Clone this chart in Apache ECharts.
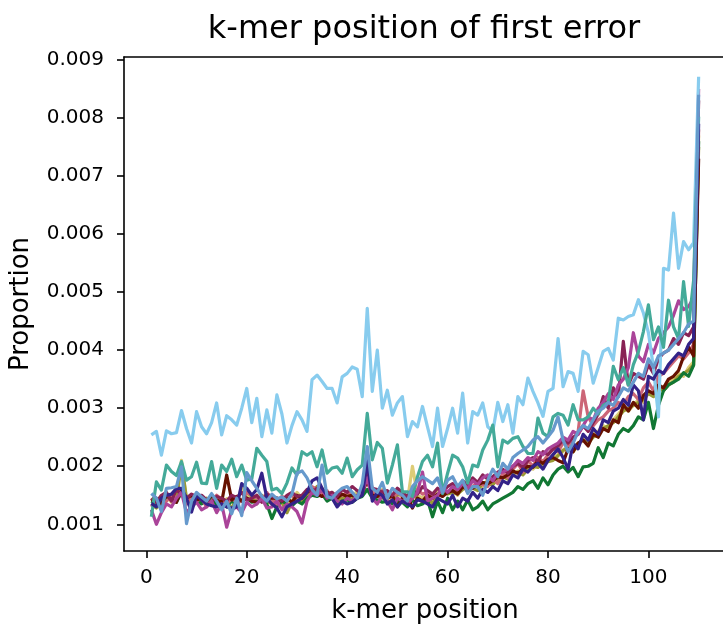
<!DOCTYPE html>
<html>
<head>
<meta charset="utf-8">
<script src="https://cdn.jsdelivr.net/npm/echarts@6/dist/echarts.min.js"></script>
<style>
html,body{margin:0;padding:0;background:#fff;}
#chart{width:723px;height:625px;}
</style>
</head>
<body>
<div id="chart"></div>
<script>
// k-mer positions 1..110
const positions = Array.from({length: 110}, (_, i) => i + 1);
const xTicks = [0, 20, 40, 60, 80, 100];
const yTicks = [0.001, 0.002, 0.003, 0.004, 0.005, 0.006, 0.007, 0.008, 0.009];

const lightBlue = [0.00254,0.00260,0.00219,0.00261,0.00256,0.00258,0.00296,0.00265,0.00240,0.00294,
0.00268,0.00256,0.00275,0.00309,0.00254,0.00287,0.00280,0.00271,0.00300,0.00334,
0.00275,0.00317,0.00251,0.00297,0.00257,0.00323,0.00290,0.00240,0.00270,0.00294,
0.00280,0.00260,0.00349,0.00357,0.00346,0.00334,0.00334,0.00309,0.00354,0.00360,
0.00371,0.00367,0.00320,0.00472,0.00329,0.00400,0.00300,0.00331,0.00288,0.00309,
0.00320,0.00251,0.00277,0.00268,0.00303,0.00268,0.00234,0.00300,0.00234,0.00265,
0.00300,0.00257,0.00326,0.00240,0.00294,0.00288,0.00309,0.00268,0.00260,0.00310,
0.00277,0.00306,0.00257,0.00320,0.00306,0.00352,0.00329,0.00309,0.00286,0.00329,
0.00334,0.00420,0.00337,0.00363,0.00360,0.00329,0.00398,0.00392,0.00343,0.00370,
0.00398,0.00403,0.00383,0.00455,0.00452,0.00458,0.00461,0.00487,0.00464,0.00430,
0.00370,0.00285,0.00541,0.00538,0.00636,0.00541,0.00587,0.00573,0.00585,0.00871];

const teal = [0.00113,0.00173,0.00159,0.00202,0.00191,0.00184,0.00208,0.00176,0.00182,0.00207,
0.00171,0.00170,0.00208,0.00162,0.00202,0.00191,0.00212,0.00182,0.00202,0.00176,
0.00178,0.00231,0.00219,0.00208,0.00159,0.00162,0.00153,0.00171,0.00197,0.00185,
0.00225,0.00219,0.00225,0.00199,0.00228,0.00188,0.00197,0.00199,0.00188,0.00214,
0.00182,0.00194,0.00202,0.00291,0.00211,0.00241,0.00231,0.00171,0.00202,0.00237,
0.00156,0.00156,0.00148,0.00182,0.00208,0.00219,0.00199,0.00240,0.00153,0.00188,
0.00219,0.00214,0.00199,0.00171,0.00202,0.00199,0.00228,0.00245,0.00271,0.00199,
0.00245,0.00240,0.00248,0.00251,0.00234,0.00222,0.00222,0.00283,0.00257,0.00251,
0.00285,0.00291,0.00288,0.00271,0.00306,0.00280,0.00280,0.00285,0.00300,0.00290,
0.00305,0.00310,0.00372,0.00349,0.00370,0.00340,0.00375,0.00397,0.00432,0.00478,
0.00418,0.00440,0.00405,0.00486,0.00440,0.00420,0.00518,0.00441,0.00520,0.00802];

const sand = [0.00145,0.00130,0.00142,0.00150,0.00138,0.00152,0.00210,0.00140,0.00135,0.00150,
0.00142,0.00135,0.00150,0.00138,0.00130,0.00144,0.00140,0.00135,0.00165,0.00148,
0.00140,0.00150,0.00145,0.00138,0.00142,0.00133,0.00148,0.00138,0.00140,0.00155,
0.00145,0.00150,0.00160,0.00155,0.00162,0.00148,0.00145,0.00150,0.00142,0.00155,
0.00145,0.00158,0.00150,0.00180,0.00155,0.00150,0.00160,0.00145,0.00140,0.00155,
0.00145,0.00140,0.00200,0.00150,0.00145,0.00155,0.00138,0.00160,0.00150,0.00155,
0.00158,0.00150,0.00170,0.00160,0.00165,0.00170,0.00162,0.00178,0.00170,0.00175,
0.00180,0.00185,0.00185,0.00192,0.00188,0.00200,0.00195,0.00205,0.00200,0.00210,
0.00215,0.00220,0.00225,0.00240,0.00225,0.00235,0.00250,0.00245,0.00255,0.00260,
0.00270,0.00265,0.00280,0.00290,0.00300,0.00295,0.00305,0.00315,0.00310,0.00330,
0.00325,0.00340,0.00335,0.00345,0.00350,0.00360,0.00355,0.00370,0.00380,0.00770];

const olive = [0.00135,0.00128,0.00138,0.00152,0.00145,0.00140,0.00205,0.00145,0.00130,0.00140,
0.00138,0.00145,0.00135,0.00142,0.00130,0.00135,0.00128,0.00145,0.00140,0.00155,
0.00148,0.00135,0.00150,0.00140,0.00135,0.00145,0.00138,0.00120,0.00138,0.00145,
0.00138,0.00150,0.00155,0.00165,0.00150,0.00145,0.00155,0.00140,0.00145,0.00148,
0.00142,0.00150,0.00160,0.00175,0.00152,0.00148,0.00145,0.00155,0.00142,0.00150,
0.00155,0.00140,0.00150,0.00145,0.00138,0.00148,0.00135,0.00150,0.00155,0.00152,
0.00155,0.00152,0.00160,0.00165,0.00162,0.00158,0.00172,0.00170,0.00168,0.00178,
0.00182,0.00178,0.00188,0.00190,0.00185,0.00195,0.00200,0.00198,0.00205,0.00208,
0.00210,0.00218,0.00228,0.00230,0.00225,0.00240,0.00245,0.00240,0.00250,0.00255,
0.00265,0.00270,0.00275,0.00285,0.00295,0.00300,0.00305,0.00310,0.00315,0.00325,
0.00320,0.00335,0.00330,0.00340,0.00345,0.00355,0.00360,0.00365,0.00375,0.00750];

const green = [0.00140,0.00135,0.00130,0.00145,0.00150,0.00138,0.00155,0.00140,0.00135,0.00142,
0.00135,0.00140,0.00145,0.00132,0.00138,0.00130,0.00140,0.00135,0.00142,0.00145,
0.00138,0.00140,0.00148,0.00135,0.00110,0.00130,0.00140,0.00135,0.00132,0.00140,
0.00135,0.00145,0.00150,0.00148,0.00152,0.00140,0.00145,0.00135,0.00140,0.00142,
0.00138,0.00145,0.00148,0.00160,0.00145,0.00142,0.00138,0.00140,0.00135,0.00140,
0.00138,0.00130,0.00142,0.00132,0.00135,0.00142,0.00113,0.00140,0.00120,0.00145,
0.00125,0.00140,0.00125,0.00142,0.00125,0.00130,0.00140,0.00125,0.00135,0.00140,
0.00145,0.00150,0.00155,0.00165,0.00160,0.00170,0.00175,0.00162,0.00180,0.00168,
0.00185,0.00195,0.00200,0.00190,0.00198,0.00182,0.00199,0.00200,0.00205,0.00232,
0.00215,0.00240,0.00235,0.00255,0.00265,0.00260,0.00270,0.00285,0.00280,0.00310,
0.00265,0.00305,0.00330,0.00340,0.00345,0.00350,0.00361,0.00355,0.00374,0.00760];

const rose = [0.00130,0.00142,0.00135,0.00140,0.00148,0.00145,0.00155,0.00135,0.00148,0.00140,
0.00145,0.00130,0.00140,0.00150,0.00142,0.00135,0.00145,0.00138,0.00140,0.00155,
0.00150,0.00145,0.00140,0.00155,0.00142,0.00135,0.00148,0.00145,0.00150,0.00140,
0.00148,0.00155,0.00165,0.00160,0.00150,0.00158,0.00145,0.00152,0.00150,0.00155,
0.00152,0.00148,0.00162,0.00195,0.00155,0.00150,0.00158,0.00152,0.00145,0.00155,
0.00148,0.00150,0.00145,0.00160,0.00152,0.00155,0.00150,0.00148,0.00160,0.00155,
0.00162,0.00158,0.00170,0.00155,0.00165,0.00172,0.00168,0.00165,0.00180,0.00170,
0.00188,0.00180,0.00195,0.00205,0.00190,0.00210,0.00200,0.00215,0.00208,0.00220,
0.00230,0.00225,0.00240,0.00235,0.00245,0.00260,0.00330,0.00285,0.00270,0.00280,
0.00285,0.00295,0.00300,0.00310,0.00305,0.00320,0.00325,0.00315,0.00335,0.00345,
0.00330,0.00355,0.00360,0.00370,0.00380,0.00390,0.00385,0.00395,0.00410,0.00780];

const wine = [0.00145,0.00138,0.00150,0.00155,0.00140,0.00160,0.00150,0.00145,0.00152,0.00148,
0.00150,0.00142,0.00138,0.00148,0.00145,0.00140,0.00150,0.00146,0.00155,0.00142,
0.00145,0.00150,0.00138,0.00152,0.00148,0.00145,0.00140,0.00150,0.00155,0.00148,
0.00150,0.00160,0.00155,0.00162,0.00158,0.00152,0.00155,0.00148,0.00160,0.00155,
0.00165,0.00158,0.00152,0.00190,0.00162,0.00160,0.00155,0.00158,0.00150,0.00162,
0.00155,0.00148,0.00160,0.00152,0.00165,0.00158,0.00152,0.00162,0.00155,0.00165,
0.00170,0.00160,0.00175,0.00168,0.00180,0.00172,0.00185,0.00178,0.00182,0.00190,
0.00195,0.00188,0.00200,0.00205,0.00198,0.00210,0.00215,0.00208,0.00225,0.00220,
0.00230,0.00235,0.00245,0.00240,0.00250,0.00255,0.00270,0.00260,0.00275,0.00290,
0.00320,0.00300,0.00335,0.00320,0.00415,0.00340,0.00360,0.00355,0.00350,0.00375,
0.00360,0.00385,0.00395,0.00400,0.00420,0.00410,0.00430,0.00425,0.00440,0.00830];

const purple = [0.00125,0.00100,0.00120,0.00135,0.00130,0.00145,0.00155,0.00120,0.00130,0.00138,
0.00125,0.00130,0.00140,0.00120,0.00135,0.00095,0.00125,0.00130,0.00120,0.00138,
0.00130,0.00135,0.00145,0.00128,0.00130,0.00140,0.00125,0.00135,0.00130,0.00122,
0.00102,0.00140,0.00155,0.00150,0.00160,0.00145,0.00150,0.00140,0.00135,0.00145,
0.00140,0.00150,0.00155,0.00180,0.00145,0.00135,0.00150,0.00140,0.00125,0.00145,
0.00140,0.00135,0.00145,0.00155,0.00190,0.00140,0.00145,0.00150,0.00165,0.00155,
0.00165,0.00160,0.00170,0.00162,0.00175,0.00168,0.00180,0.00185,0.00175,0.00188,
0.00190,0.00195,0.00200,0.00210,0.00205,0.00215,0.00210,0.00225,0.00220,0.00230,
0.00235,0.00240,0.00250,0.00245,0.00260,0.00255,0.00270,0.00285,0.00280,0.00300,
0.00310,0.00325,0.00315,0.00340,0.00350,0.00370,0.00430,0.00390,0.00380,0.00410,
0.00395,0.00420,0.00430,0.00440,0.00460,0.00485,0.00470,0.00475,0.00490,0.00850];

const darkRed = [0.00140,0.00145,0.00135,0.00150,0.00142,0.00138,0.00160,0.00145,0.00150,0.00142,
0.00145,0.00140,0.00150,0.00142,0.00138,0.00185,0.00142,0.00148,0.00140,0.00145,
0.00140,0.00138,0.00142,0.00148,0.00145,0.00145,0.00140,0.00145,0.00138,0.00150,
0.00145,0.00155,0.00160,0.00152,0.00148,0.00155,0.00150,0.00145,0.00152,0.00148,
0.00150,0.00145,0.00155,0.00175,0.00150,0.00148,0.00155,0.00145,0.00150,0.00130,
0.00145,0.00150,0.00128,0.00145,0.00140,0.00150,0.00145,0.00152,0.00148,0.00155,
0.00158,0.00152,0.00165,0.00160,0.00162,0.00168,0.00172,0.00170,0.00175,0.00182,
0.00180,0.00185,0.00192,0.00188,0.00195,0.00200,0.00198,0.00210,0.00205,0.00212,
0.00215,0.00210,0.00206,0.00230,0.00225,0.00240,0.00245,0.00235,0.00255,0.00250,
0.00265,0.00260,0.00280,0.00275,0.00306,0.00295,0.00310,0.00300,0.00322,0.00330,
0.00325,0.00340,0.00335,0.00350,0.00355,0.00365,0.00389,0.00405,0.00390,0.00730];

const indigo = [0.00136,0.00130,0.00145,0.00150,0.00152,0.00162,0.00162,0.00145,0.00121,0.00150,
0.00142,0.00135,0.00132,0.00130,0.00135,0.00130,0.00128,0.00130,0.00170,0.00162,
0.00150,0.00160,0.00188,0.00145,0.00135,0.00128,0.00113,0.00130,0.00135,0.00140,
0.00145,0.00155,0.00175,0.00180,0.00162,0.00150,0.00145,0.00130,0.00140,0.00135,
0.00138,0.00145,0.00150,0.00210,0.00140,0.00155,0.00150,0.00135,0.00142,0.00130,
0.00140,0.00135,0.00130,0.00142,0.00140,0.00135,0.00130,0.00145,0.00140,0.00135,
0.00150,0.00130,0.00145,0.00140,0.00155,0.00145,0.00160,0.00155,0.00165,0.00158,
0.00175,0.00170,0.00185,0.00180,0.00195,0.00190,0.00200,0.00205,0.00195,0.00210,
0.00220,0.00230,0.00215,0.00195,0.00240,0.00230,0.00255,0.00245,0.00265,0.00255,
0.00280,0.00275,0.00295,0.00300,0.00315,0.00305,0.00340,0.00330,0.00280,0.00355,
0.00350,0.00365,0.00360,0.00375,0.00385,0.00395,0.00390,0.00410,0.00420,0.00790];

const blue = [0.00153,0.00145,0.00122,0.00162,0.00163,0.00165,0.00199,0.00101,0.00140,0.00155,
0.00147,0.00140,0.00153,0.00140,0.00125,0.00140,0.00118,0.00145,0.00115,0.00189,
0.00175,0.00162,0.00148,0.00140,0.00152,0.00144,0.00147,0.00140,0.00152,0.00188,
0.00192,0.00180,0.00160,0.00150,0.00202,0.00148,0.00145,0.00155,0.00162,0.00165,
0.00155,0.00145,0.00170,0.00234,0.00162,0.00155,0.00172,0.00145,0.00162,0.00155,
0.00150,0.00140,0.00165,0.00175,0.00182,0.00176,0.00170,0.00180,0.00155,0.00176,
0.00182,0.00165,0.00176,0.00153,0.00165,0.00165,0.00150,0.00176,0.00195,0.00182,
0.00205,0.00195,0.00215,0.00222,0.00228,0.00234,0.00245,0.00251,0.00240,0.00251,
0.00262,0.00285,0.00245,0.00225,0.00240,0.00260,0.00270,0.00265,0.00280,0.00295,
0.00300,0.00310,0.00305,0.00320,0.00335,0.00330,0.00345,0.00360,0.00355,0.00385,
0.00370,0.00390,0.00395,0.00400,0.00410,0.00420,0.00430,0.00445,0.00450,0.00840];

const seriesList = [
  {name: 'sand', color: '#DDCC77', values: sand},
  {name: 'olive', color: '#999933', values: olive},
  {name: 'green', color: '#117733', values: green},
  {name: 'rose', color: '#CC6677', values: rose},
  {name: 'darkRed', color: '#661100', values: darkRed},
  {name: 'wine', color: '#882255', values: wine},
  {name: 'purple', color: '#AA4499', values: purple},
  {name: 'lightBlue', color: '#88CCEE', values: lightBlue},
  {name: 'teal', color: '#44AA99', values: teal},
  {name: 'indigo', color: '#332288', values: indigo},
  {name: 'blue', color: '#6699CC', values: blue}
];

const FONT = 'DejaVu Sans';
const X_MIN = -4.45, X_MAX = 115.45;
const chart = echarts.init(document.getElementById('chart'), null, {renderer: 'canvas'});
chart.setOption({
  animation: false,
  backgroundColor: '#fff',
  title: {
    text: 'k-mer position of first error',
    left: 419, top: 9, textAlign: 'center',
    textStyle: {fontFamily: FONT, fontSize: 32, fontWeight: 'normal', color: '#000'}
  },
  grid: {left: 124, top: 57, width: 602, height: 494, show: false,
    containLabel: false, outerBoundsMode: 'none'},
  xAxis: [{
    type: 'value', min: X_MIN, max: X_MAX,
    name: 'k-mer position', nameLocation: 'middle', nameGap: 47,
    nameTextStyle: {fontFamily: FONT, fontSize: 26, color: '#000'},
    axisLine: {show: true, onZero: false, lineStyle: {color: '#000', width: 1.6}},
    axisTick: {show: true, length: 7, lineStyle: {color: '#000', width: 1.6}, customValues: xTicks},
    axisLabel: {fontFamily: FONT, fontSize: 20, color: '#000', margin: 17, customValues: xTicks},
    splitLine: {show: false}
  }, {
    type: 'value', position: 'top', min: X_MIN, max: X_MAX,
    axisLine: {show: true, onZero: false, lineStyle: {color: '#000', width: 1.6}},
    axisTick: {show: false}, axisLabel: {show: false}, splitLine: {show: false}
  }],
  yAxis: {
    type: 'value', min: 0.00054, max: 0.00905,
    name: 'Proportion', nameLocation: 'middle', nameGap: 90,
    nameTextStyle: {fontFamily: FONT, fontSize: 26, color: '#000'},
    axisLine: {show: true, onZero: false, lineStyle: {color: '#000', width: 1.6}},
    axisTick: {show: true, length: 7, lineStyle: {color: '#000', width: 1.6}, customValues: yTicks},
    axisLabel: {fontFamily: FONT, fontSize: 20, color: '#000', margin: 20, customValues: yTicks,
      formatter: v => v.toFixed(3)},
    splitLine: {show: false}
  },
  series: seriesList.map(s => ({
    name: s.name, type: 'line', showSymbol: false, symbol: 'none',
    xAxisIndex: 0, yAxisIndex: 0,
    lineStyle: {color: s.color, width: 3.2, join: 'round'},
    itemStyle: {color: s.color},
    emphasis: {disabled: true},
    data: positions.map((p, i) => [p, s.values[i]])
  }))
});
</script>
</body>
</html>
